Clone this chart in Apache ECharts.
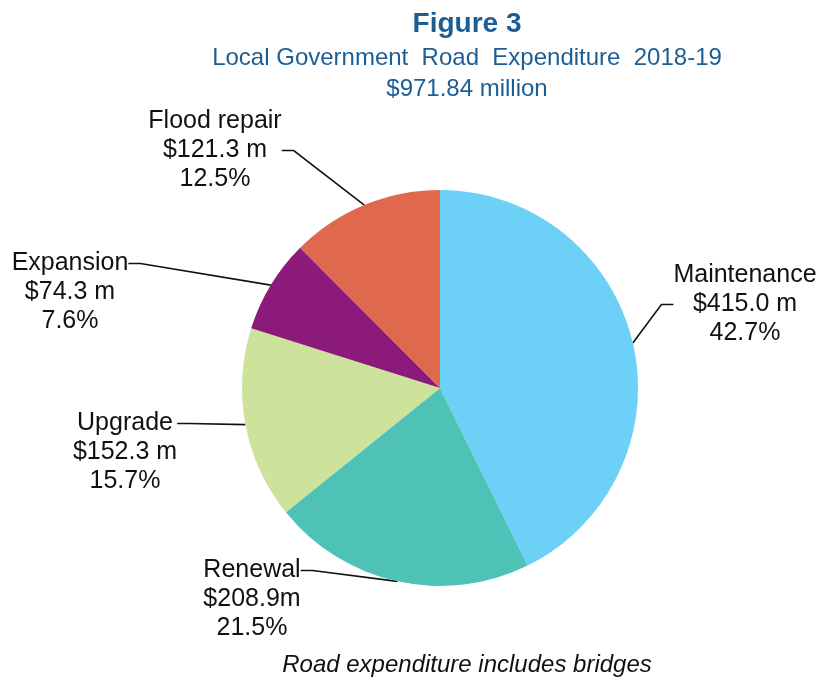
<!DOCTYPE html>
<html>
<head>
<meta charset="utf-8">
<script src="https://cdn.jsdelivr.net/npm/echarts@6/dist/echarts.min.js"></script>
<style>
  html, body { margin: 0; padding: 0; background: #fff; }
  #chart { width: 819px; height: 679px; }
</style>
</head>
<body>
<div id="chart"></div>
<script>
// data
const categories = ['Maintenance', 'Renewal', 'Upgrade', 'Expansion', 'Flood repair']
const amounts = [415.0, 208.9, 152.3, 74.3, 121.3]
const unitSep = [' ', '', ' ', ' ', ' ']   // "$208.9m" has no space in the original
const colors = ['#6DD0F6', '#4FC2B8', '#CDE29B', '#8B1A7A', '#E0694D']

// where the labels sit (centre x, top y of the text)
const labelPos = [
  [745, 261],
  [252, 556],
  [125, 409],
  [70, 249],
  [215, 107]
]
// leader line meets the first text line for these (extra top padding moves the box middle there)
const topAttach = [false, true, true, true, false]
const LH = 29

let myChart = echarts.init(document.getElementById('chart'))
myChart.setOption({
  animation: false,
  color: colors,
  title: [
    {
      text: 'Figure 3',
      left: 462, top: 5, textAlign: 'center',
      textStyle: {fontFamily: 'Liberation Sans', fontSize: 28, fontWeight: 'bold', color: '#1C5E94'}
    },
    {
      text: 'Local Government  Road  Expenditure  2018-19\n$971.84 million',
      left: 462, top: 38, textAlign: 'center',
      textStyle: {fontFamily: 'Liberation Sans', fontSize: 24, fontWeight: 'normal', color: '#1C5E94', lineHeight: 31}
    },
    {
      text: 'Road expenditure includes bridges',
      left: 462, top: 648, textAlign: 'center',
      textStyle: {fontFamily: 'Liberation Sans', fontSize: 24, fontStyle: 'italic', fontWeight: 'normal', color: '#111'}
    }
  ],
  series: [
    {
      type: 'pie',
      center: [440, 388],
      radius: 198,
      startAngle: 90,
      percentPrecision: 1,
      data: categories.map((name, i) => ({
        name: name,
        value: amounts[i],
        label: {padding: topAttach[i] ? [2 * LH, 0, 0, 0] : 0}
      })),
      label: {
        fontFamily: 'Liberation Sans',
        fontSize: 25,
        lineHeight: LH,
        color: '#111',
        align: 'center',
        overflow: 'none',
        formatter: p => p.name + '\n$' + p.value.toFixed(1) + unitSep[p.dataIndex] + 'm\n' + p.percent + '%'
      },
      labelLine: {
        length: 20,
        length2: 12,
        lineStyle: {color: '#111', width: 1.6}
      },
      labelLayout: function(params) {
        const i = params.dataIndex
        const pos = labelPos[i]
        return {x: pos[0], y: pos[1] - (topAttach[i] ? 2 * LH : 0), align: 'center', verticalAlign: 'top'}
      },
      itemStyle: {borderWidth: 0}
    }
  ]
})
</script>
</body>
</html>
